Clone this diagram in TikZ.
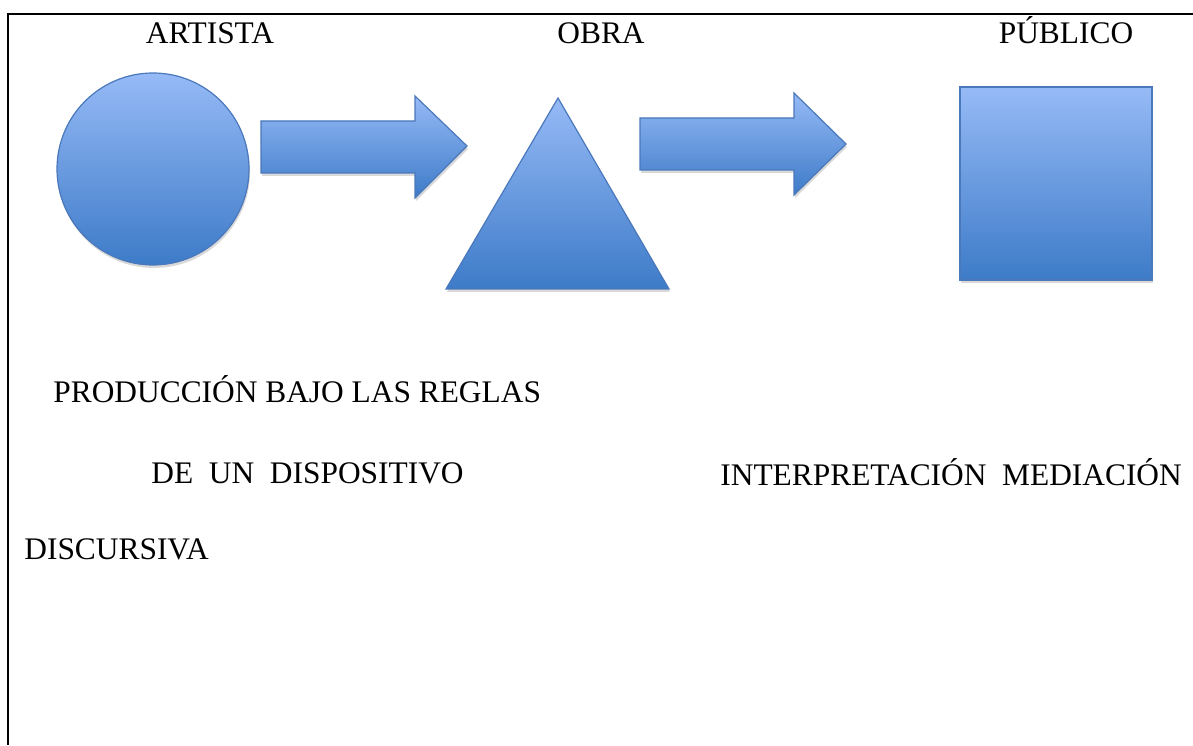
\documentclass[tikz,border=0pt]{standalone}
\usepackage{fontspec}
\setmainfont{Liberation Serif}
\usetikzlibrary{shadows}

\definecolor{claro}{RGB}{150,186,246}
\definecolor{oscuro}{RGB}{61,123,200}
\definecolor{borde}{RGB}{74,120,186}

\tikzset{
  figura/.style={draw=borde, line width=0.6pt, top color=claro, bottom color=oscuro,
    drop shadow={shadow xshift=0.5pt, shadow yshift=-1.5pt, opacity=0.15, fill=black}},
  rotulo/.style={font=\fontsize{15.7}{19}\selectfont, inner sep=0pt}
}

\begin{document}
\begin{tikzpicture}[x=0.5pt,y=0.5pt]
\useasboundingbox (0,0) rectangle (1193,745);
\draw[line width=1.3pt] (1193,731) -- (8,731) -- (8,0);
\draw[figura] (153,576) circle (96);
\draw[figura] (261,624) -- (415,624) -- (415,649) -- (467,599) -- (415,547) -- (415,572) -- (261,572) -- cycle;
\draw[figura] (558,647) -- (669,456) -- (446,456) -- cycle;
\draw[figura] (640,627) -- (794,627) -- (794,652) -- (846,601) -- (794,550) -- (794,575) -- (640,575) -- cycle;
\draw[figura] (960,465) rectangle (1152,658);
\node[rotulo, anchor=base] (artista) at (210,701) {ARTISTA};
\node[rotulo, anchor=base] (obra) at (601,701) {OBRA};
\node[rotulo, anchor=base] (publico) at (1066,701) {PÚBLICO};
\node[rotulo, anchor=base west] (produccion) at (53,343) {PRODUCCIÓN BAJO LAS REGLAS};
\node[rotulo, anchor=base west] (dispositivo) at (151,262) {DE\ \ UN\ \ DISPOSITIVO};
\node[rotulo, anchor=base west] (interpretacion) at (720,260) {INTERPRETACIÓN\ \ MEDIACIÓN};
\node[rotulo, anchor=base west] (discursiva) at (24,186) {DISCURSIVA};
\end{tikzpicture}
\end{document}
